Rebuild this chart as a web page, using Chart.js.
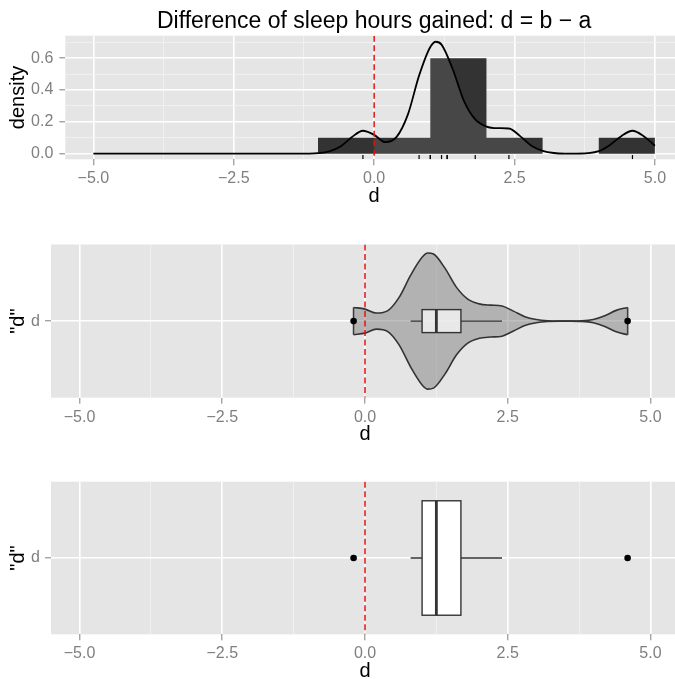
<!DOCTYPE html>
<html>
<head>
<meta charset="utf-8">
<script src="https://cdn.jsdelivr.net/npm/chart.js@4"></script>
<style>
html, body { margin: 0; padding: 0; background: #ffffff; overflow: hidden; width: 675px; height: 679px; }
#stage { position: relative; width: 675px; height: 679px; overflow: hidden; }
canvas { position: absolute; left: 0; top: 0; }
</style>
</head>
<body>
<div id="stage">
<canvas id="c1" width="683" height="700"></canvas>
<canvas id="c2" width="683" height="700"></canvas>
<canvas id="c3" width="683" height="700"></canvas>
</div>
<script>
// ---------------- data ----------------
const titleText = 'Difference of sleep hours gained: d = b \u2212 a';
const categories = ['d'];
const xTickValues = [-5, -2.5, 0, 2.5, 5];
const xTickLabels = ['\u22125.0', '\u22122.5', '0.0', '2.5', '5.0'];
const xMinorValues = [-3.75, -1.25, 1.25, 3.75];
const densTickValues = [0, 0.2, 0.4, 0.6];
const densTickLabels = ['0.0', '0.2', '0.4', '0.6'];
const densMinorValues = [0.1, 0.3, 0.5, 0.7];

const binEdges = [-1, 0, 1, 2, 3, 4, 5];
const binDensity = [0.1, 0.1, 0.6, 0.1, 0, 0.1];

const densX = [-5, -1.4, -1.2, -1.0, -0.8, -0.6, -0.4, -0.2, 0.0, 0.2, 0.4, 0.6, 0.8, 1.0, 1.1, 1.2, 1.4, 1.6, 1.8, 2.0, 2.2, 2.4, 2.6, 2.8, 3.0, 3.2, 3.4, 3.6, 3.8, 4.0, 4.2, 4.4, 4.6, 4.8, 5.0];
const densY = [0, 0, 0.0005, 0.003, 0.014, 0.045, 0.103, 0.144, 0.118, 0.072, 0.105, 0.245, 0.49, 0.67, 0.703, 0.685, 0.53, 0.33, 0.215, 0.17, 0.16, 0.158, 0.11, 0.05, 0.018, 0.004, 0.0005, 0.0005, 0.003, 0.016, 0.055, 0.11, 0.144, 0.11, 0.05];

const rugValues = [-0.2, 0.8, 1.0, 1.0, 1.2, 1.3, 1.3, 1.8, 2.4, 4.6];

const violinX = [-0.2, 0.0, 0.2, 0.4, 0.6, 0.8, 1.0, 1.1, 1.2, 1.4, 1.6, 1.8, 2.0, 2.2, 2.4, 2.6, 2.8, 3.0, 3.2, 3.4, 3.6, 3.8, 4.0, 4.2, 4.4, 4.6];
const violinHalfWidth = [0.107, 0.094, 0.063, 0.082, 0.188, 0.36, 0.50, 0.533, 0.525, 0.415, 0.266, 0.172, 0.135, 0.125, 0.118, 0.078, 0.035, 0.013, 0.003, 0, 0, 0.002, 0.013, 0.042, 0.084, 0.107];

const boxStats = [0.8, 1.0, 1.25, 1.68, 2.4]; // lower whisker, Q1, median, Q3, upper whisker
const outliers = [-0.2, 4.6];
const refLine = [0];

// ---------------- styling helpers ----------------
const FONT = "'Liberation Sans', Arial, sans-serif";
Chart.defaults.font.family = FONT;
Chart.defaults.animation = false;
Chart.defaults.devicePixelRatio = 1;

const GRID_MAJOR = '#ffffff', GRID_MINOR = '#f2f2f2', TICK_COL = '#7f7f7f';

function linearAxisOptions(opts) {
  const all = opts.major.concat(opts.minor).sort((a, b) => a - b);
  const isMajor = v => opts.major.indexOf(v) >= 0;
  return {
    type: 'linear',
    min: opts.min,
    max: opts.max,
    position: opts.position,
    afterBuildTicks: s => { s.ticks = all.map(v => ({ value: v })); },
    afterFit: s => {
      if (opts.position === 'bottom') { s.height = opts.size; s.paddingLeft = 0; s.paddingRight = 0; }
      else { s.width = opts.size; s.paddingTop = 0; s.paddingBottom = 0; }
    },
    ticks: {
      autoSkip: false, maxRotation: 0, minRotation: 0,
      padding: opts.tickPad,
      color: TICK_COL,
      font: { family: FONT, size: 16 },
      callback: v => { const i = opts.major.indexOf(v); return i >= 0 ? opts.labels[i] : ''; }
    },
    grid: {
      drawOnChartArea: true,
      drawTicks: true,
      tickLength: 6,
      color: c => (c.tick && isMajor(c.tick.value)) ? GRID_MAJOR : GRID_MINOR,
      lineWidth: c => (c.tick && isMajor(c.tick.value)) ? 1.6 : 0.8,
      tickColor: c => (c.tick && isMajor(c.tick.value)) ? TICK_COL : 'rgba(0,0,0,0)',
      tickWidth: 1
    },
    border: { display: false },
    title: {
      display: true, text: opts.title, color: '#000000',
      font: { family: FONT, size: 20, lineHeight: 1.2 },
      padding: opts.position === 'bottom' ? { top: 0, bottom: 0.8 } : { top: 6, bottom: 0 }
    }
  };
}

function xAxis() {
  return linearAxisOptions({ min: -5.5, max: 5.5, position: 'bottom', size: 50, tickPad: 4,
    major: xTickValues, minor: xMinorValues, labels: xTickLabels, title: 'd' });
}

const panelBg = {
  id: 'panelBg',
  beforeDraw(chart) {
    const a = chart.chartArea, ctx = chart.ctx;
    ctx.save();
    ctx.fillStyle = '#e5e5e5';
    ctx.fillRect(a.left, a.top, a.right - a.left, a.bottom - a.top);
    ctx.restore();
  }
};

function extras(cfg) {
  return {
    id: 'ggExtras',
    afterDatasetsDraw(chart) {
      const ctx = chart.ctx, a = chart.chartArea;
      const xs = chart.scales.x, ys = chart.scales.y;
      ctx.save();
      ctx.beginPath();
      ctx.rect(a.left, a.top, a.right - a.left, a.bottom - a.top);
      ctx.clip();
      if (cfg.rug) {
        const len = 0.035 * (a.bottom - a.top);
        ctx.strokeStyle = '#000000';
        ctx.lineWidth = 1.2;
        cfg.rug.forEach(v => {
          const px = xs.getPixelForValue(v);
          ctx.beginPath();
          ctx.moveTo(px, a.bottom);
          ctx.lineTo(px, a.bottom - len);
          ctx.stroke();
        });
      }
      cfg.vline.forEach(v => {
        const px = xs.getPixelForValue(v);
        ctx.strokeStyle = '#dd1111';
        ctx.lineWidth = 1.5;
        ctx.setLineDash([6, 3.5]);
        ctx.beginPath();
        ctx.moveTo(px, a.top);
        ctx.lineTo(px, a.bottom);
        ctx.stroke();
        ctx.setLineDash([]);
      });
      if (cfg.box) {
        const s = cfg.box.stats, hw = cfg.box.halfWidth;
        const yc = ys.getPixelForValue(0), yt = ys.getPixelForValue(hw), yb = ys.getPixelForValue(-hw);
        const p = s.map(v => xs.getPixelForValue(v));
        ctx.strokeStyle = '#333333';
        ctx.lineWidth = 1.4;
        ctx.beginPath();
        ctx.moveTo(p[0], yc); ctx.lineTo(p[1], yc);
        ctx.moveTo(p[3], yc); ctx.lineTo(p[4], yc);
        ctx.stroke();
        ctx.fillStyle = cfg.box.fill;
        ctx.fillRect(p[1], yt, p[3] - p[1], yb - yt);
        ctx.strokeRect(p[1], yt, p[3] - p[1], yb - yt);
        ctx.lineWidth = 2.8;
        ctx.beginPath();
        ctx.moveTo(p[2], yt); ctx.lineTo(p[2], yb);
        ctx.stroke();
      }
      ctx.restore();
    }
  };
}

function catYAxis(size) {
  return linearAxisOptions({ min: -0.6, max: 0.6, position: 'left', size: size, tickPad: 5,
    major: [0], minor: [], labels: categories, title: '"d"' });
}

const baseOpts = (padding) => ({
  responsive: false,
  animation: false,
  events: [],
  layout: { padding: padding },
  plugins: { legend: { display: false }, tooltip: { enabled: false }, title: { display: false } }
});

// ---------------- Chart 1: histogram + density ----------------
const histPoints = binEdges.map((e, i) => ({ x: e, y: i < binDensity.length ? binDensity[i] : binDensity[binDensity.length - 1] }));
const densPoints = densX.map((x, i) => ({ x: x, y: densY[i] }));

const opts1 = baseOpts({ top: 0, bottom: 490.7, left: 0, right: 0 });
opts1.plugins.title = {
  display: true, text: titleText, fullSize: false, color: '#000000',
  font: { family: FONT, size: 23, weight: 'normal', lineHeight: 1.2 },
  padding: { top: 8.1, bottom: 0 }
};
opts1.scales = {
  x: xAxis(),
  y: linearAxisOptions({ min: -0.0355, max: 0.741, position: 'left', size: 65.3, tickPad: 6,
    major: densTickValues, minor: densMinorValues, labels: densTickLabels, title: 'density' })
};

new Chart(document.getElementById('c1'), {
  type: 'line',
  data: {
    datasets: [
      {
        label: 'density', data: densPoints, order: 1,
        borderColor: '#000000', borderWidth: 1.8, pointRadius: 0,
        cubicInterpolationMode: 'monotone',
        fill: 'origin', backgroundColor: 'rgba(0,0,0,0)',
        segment: {
          backgroundColor: c => (c.p0.parsed.x >= 0 && c.p1.parsed.x <= 3.4) ? 'rgba(255,255,255,0.1)' : 'rgba(0,0,0,0)'
        }
      },
      {
        label: 'histogram', data: histPoints, order: 2,
        stepped: 'before', fill: 'origin', backgroundColor: '#333333',
        borderColor: 'rgba(0,0,0,0)', borderWidth: 0, pointRadius: 0
      }
    ]
  },
  options: opts1,
  plugins: [panelBg, extras({ vline: refLine, rug: rugValues })]
});

// ---------------- Chart 2: violin + boxplot ----------------
const violinTop = violinX.map((x, i) => ({ x: x, y: violinHalfWidth[i] }));
const violinBottom = violinX.map((x, i) => ({ x: x, y: -violinHalfWidth[i] }));
const nV = violinX.length - 1;
const capLeft = [{ x: violinX[0], y: -violinHalfWidth[0] }, { x: violinX[0], y: violinHalfWidth[0] }];
const capRight = [{ x: violinX[nV], y: -violinHalfWidth[nV] }, { x: violinX[nV], y: violinHalfWidth[nV] }];
const outlierPoints = outliers.map(v => ({ x: v, y: 0 }));

const opts2 = baseOpts({ top: 244.5, bottom: 252.3, left: 0, right: 0 });
opts2.scales = { x: xAxis(), y: catYAxis(51) };

const violinLine = { borderColor: '#333333', borderWidth: 1.6, pointRadius: 0, cubicInterpolationMode: 'monotone' };
new Chart(document.getElementById('c2'), {
  type: 'line',
  data: {
    datasets: [
      Object.assign({ label: 'violin top', data: violinTop, fill: false, order: 2 }, violinLine),
      Object.assign({ label: 'violin bottom', data: violinBottom, fill: '-1', backgroundColor: 'rgba(128,128,128,0.5)', order: 2 }, violinLine),
      { label: 'cap left', data: capLeft, borderColor: '#333333', borderWidth: 1.6, pointRadius: 0, tension: 0, fill: false, order: 2 },
      { label: 'cap right', data: capRight, borderColor: '#333333', borderWidth: 1.6, pointRadius: 0, tension: 0, fill: false, order: 2 },
      { label: 'outliers', data: outlierPoints, showLine: false, pointRadius: 3.3, pointBackgroundColor: '#000000', pointBorderWidth: 0, order: 0 }
    ]
  },
  options: opts2,
  plugins: [panelBg, extras({ vline: refLine, box: { stats: boxStats, halfWidth: 0.09, fill: 'rgba(255,255,255,0.7)' } })]
});

// ---------------- Chart 3: boxplot ----------------
const opts3 = baseOpts({ top: 481.7, bottom: 15.7, left: 0, right: 0 });
opts3.scales = { x: xAxis(), y: catYAxis(51) };

new Chart(document.getElementById('c3'), {
  type: 'line',
  data: {
    datasets: [
      { label: 'outliers', data: outlierPoints, showLine: false, pointRadius: 3.3, pointBackgroundColor: '#000000', pointBorderWidth: 0 }
    ]
  },
  options: opts3,
  plugins: [panelBg, extras({ vline: refLine, box: { stats: boxStats, halfWidth: 0.45, fill: '#ffffff' } })]
});
</script>
</body>
</html>
